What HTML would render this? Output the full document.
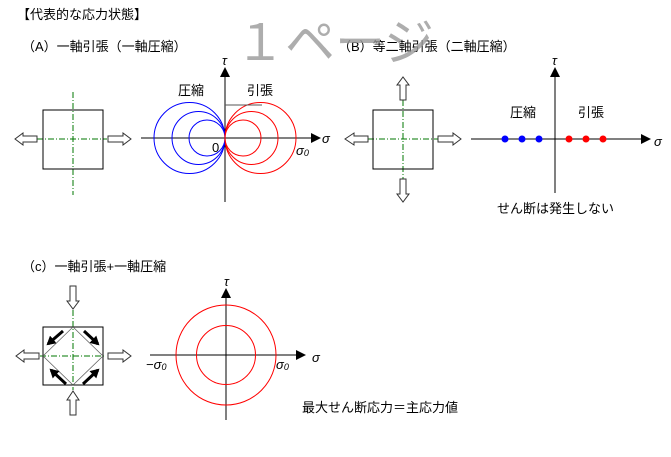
<!DOCTYPE html>
<html><head><meta charset="utf-8"><style>
body{margin:0;background:#fff;}
svg{display:block;font-family:"Liberation Sans","Noto Sans CJK JP",sans-serif;}
</style></head><body>
<svg width="671" height="457" viewBox="0 0 671 457" xmlns="http://www.w3.org/2000/svg">
<defs>
<marker id="ah" markerWidth="10" markerHeight="10" refX="9" refY="5" orient="auto" markerUnits="userSpaceOnUse"><path d="M0,0 L10,5 L0,10 z" fill="#000"/></marker>
<marker id="bh" markerWidth="10" markerHeight="10" refX="7" refY="5" orient="auto" markerUnits="userSpaceOnUse"><path d="M0,0 L9,5 L0,10 z" fill="#000"/></marker>
</defs>
<g font-size="13" fill="#000">
<text x="17" y="19">【代表的な応力状態】</text>
<text x="22" y="51">（A）一軸引張（一軸圧縮）</text>
<text x="338" y="51">（B）等二軸引張（二軸圧縮）</text>
<text x="22" y="271">（c）一軸引張+一軸圧縮</text>
</g>
<text x="235" y="60" font-size="50" fill="#999" opacity="0.8">１ページ</text>

<!-- A specimen -->
<line x1="73" y1="92" x2="73" y2="195" stroke="#070" stroke-dasharray="6,2,1,2"/>
<line x1="37" y1="139" x2="107" y2="139" stroke="#070" stroke-dasharray="6,2,1,2"/>
<rect x="43" y="110" width="60" height="59" fill="none" stroke="#000"/>
<g fill="#fff" stroke="#333">
<polygon points="37,136 23,136 23,133 15,139 23,145 23,142 37,142"/>
<polygon points="108,136 123,136 123,133 131,139 123,145 123,142 108,142"/>
</g>
<!-- A Mohr -->
<line x1="141" y1="138" x2="320" y2="138" stroke="#000" marker-end="url(#ah)"/>
<line x1="225" y1="202" x2="225" y2="68" stroke="#000" marker-end="url(#ah)"/>
<g fill="none" stroke="#00f">
<circle cx="189.5" cy="138" r="35.5"/><circle cx="198.5" cy="138" r="26.5"/><circle cx="207" cy="138" r="18"/>
</g>
<g fill="none" stroke="#f00">
<circle cx="260.5" cy="138" r="35.5"/><circle cx="251.5" cy="138" r="26.5"/><circle cx="243" cy="138" r="18"/>
</g>
<line x1="225" y1="105" x2="262" y2="105" stroke="#555"/>
<g font-size="13">
<text x="178" y="95">圧縮</text><text x="247" y="95">引張</text>
<text x="212" y="152">0</text>
<text x="296" y="155" font-style="italic">σ<tspan font-size="9" dy="1">0</tspan></text>
<text x="322" y="143" font-style="italic">σ</text>
<text x="222" y="65" font-style="italic">τ</text>
</g>

<!-- B specimen -->
<line x1="403" y1="100" x2="403" y2="180" stroke="#070" stroke-dasharray="6,2,1,2"/>
<line x1="368" y1="139" x2="438" y2="139" stroke="#070" stroke-dasharray="6,2,1,2"/>
<rect x="373" y="110" width="60" height="59" fill="none" stroke="#000"/>
<g fill="#fff" stroke="#333">
<polygon points="368,136 354,136 354,133 345,139 354,145 354,142 368,142"/>
<polygon points="438,136 453,136 453,133 461,139 453,145 453,142 438,142"/>
<polygon points="400,100 400,85 397,85 403,77 409,85 406,85 406,100"/>
<polygon points="400,179 400,194 397,194 403,202 409,194 406,194 406,179"/>
</g>
<line x1="471" y1="139" x2="650" y2="139" stroke="#000" marker-end="url(#ah)"/>
<line x1="555" y1="193" x2="555" y2="68" stroke="#000" marker-end="url(#ah)"/>
<g fill="#00f"><circle cx="505" cy="139" r="3.5"/><circle cx="522" cy="139" r="3.5"/><circle cx="539" cy="139" r="3.5"/></g>
<g fill="#f00"><circle cx="569" cy="139" r="3.5"/><circle cx="586" cy="139" r="3.5"/><circle cx="603" cy="139" r="3.5"/></g>
<g font-size="13">
<text x="510" y="117">圧縮</text><text x="578" y="117">引張</text>
<text x="497" y="213">せん断は発生しない</text>
<text x="654" y="146" font-style="italic">σ</text>
<text x="552" y="65" font-style="italic">τ</text>
</g>

<!-- C specimen -->
<line x1="73" y1="310" x2="73" y2="390" stroke="#070" stroke-dasharray="6,2,1,2"/>
<line x1="40" y1="356" x2="106" y2="356" stroke="#070" stroke-dasharray="6,2,1,2"/>
<rect x="43" y="327" width="60" height="58" fill="none" stroke="#000"/>
<polygon points="73,327 103,356 73,385 43,356" fill="none" stroke="#666" stroke-width="0.8"/>
<g stroke="#000" stroke-width="3">
<line x1="63" y1="331" x2="48" y2="344" marker-end="url(#bh)"/>
<line x1="84" y1="331" x2="98" y2="344" marker-end="url(#bh)"/>
<line x1="66" y1="384" x2="51" y2="370" marker-end="url(#bh)"/>
<line x1="83" y1="384" x2="98" y2="370" marker-end="url(#bh)"/>
</g>
<g fill="#fff" stroke="#333">
<polygon points="39,353 24,353 24,350 16,356 24,362 24,359 39,359"/>
<polygon points="108,353 123,353 123,350 131,356 123,362 123,359 108,359"/>
<polygon points="70,286 70,301 67,301 73,309 79,301 76,301 76,286"/>
<polygon points="70,415 70,400 67,400 73,391 79,400 76,400 76,415"/>
</g>
<!-- C Mohr -->
<line x1="150" y1="355" x2="305" y2="355" stroke="#000" marker-end="url(#ah)"/>
<line x1="226" y1="420" x2="226" y2="289" stroke="#000" marker-end="url(#ah)"/>
<circle cx="226" cy="355" r="50" fill="none" stroke="#f00"/>
<circle cx="226" cy="355" r="29.5" fill="none" stroke="#f00"/>
<g font-size="13">
<text x="146" y="369" font-style="italic">−σ<tspan font-size="9" dy="1">0</tspan></text>
<text x="276" y="369" font-style="italic">σ<tspan font-size="9" dy="1">0</tspan></text>
<text x="312" y="362" font-style="italic">σ</text>
<text x="224" y="286" font-style="italic">τ</text>
<text x="302" y="412">最大せん断応力＝主応力値</text>
</g>
</svg>
</body></html>
